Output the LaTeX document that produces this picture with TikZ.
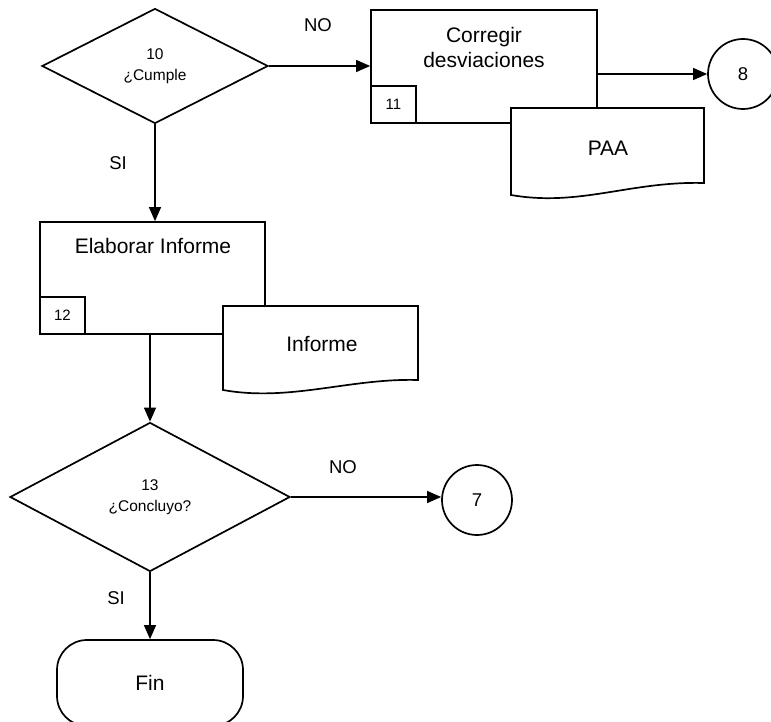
\documentclass[tikz,border=0pt]{standalone}
\usepackage{fontspec}
\setmainfont{Liberation Sans}
\usetikzlibrary{shapes.geometric,arrows.meta}
\begin{document}
\begin{tikzpicture}[x=1pt,y=-1pt,
  every node/.style={inner sep=0pt,font=\fontsize{21}{25}\selectfont},
  outline/.style={draw=black,line width=1.7pt},
  decision/.style={outline,diamond,align=center,font=\fontsize{15.5}{20.5}\selectfont},
  process/.style={outline,rectangle},
  stepno/.style={outline,rectangle,fill=white,minimum width=45pt,minimum height=37pt,
    anchor=south west,font=\fontsize{15}{18}\selectfont},
  connector/.style={outline,circle,minimum size=70pt,font=\fontsize{18.5}{22}\selectfont},
  terminal/.style={outline,rectangle,rounded corners=30pt,minimum width=186pt,minimum height=86pt},
  docline/.style={outline,fill=white,line join=miter},
  flow/.style={draw=black,line width=1.2pt,-{Triangle[length=14pt,width=12pt]}},
  answer/.style={font=\fontsize{18.5}{22}\selectfont}
]
\path[use as bounding box] (0,0) rectangle (771,722);
\clip (0,0) rectangle (771,722);

% step 10: decision
\node[decision,minimum width=226pt,minimum height=115pt] (d10) at (155,66) {10\\¿Cumple};

% step 11: corrective action and its record
\node[process,minimum width=226pt,minimum height=113pt] (p11) at (484,66.5) {};
\node[align=center] (p11txt) at (484,47) {Corregir\\desviaciones};
\node[stepno] (n11) at (p11.south west) {11};
\draw[docline] (511,108) -- (704,108) -- (704,183)
  .. controls (630,181) and (580,207) .. (511,195) -- cycle;
\node (paa) at (608,148.5) {PAA};
\node[connector] (c8) at (743,74) {8};

% step 12: report
\node[process,minimum width=225pt,minimum height=112pt] (p12) at (152.5,278) {};
\node (p12txt) at (153,246) {Elaborar Informe};
\node[stepno] (n12) at (p12.south west) {12};
\draw[docline] (223,306) -- (418,306) -- (418,380)
  .. controls (350,378) and (290,402) .. (223,390) -- cycle;
\node (inf) at (322,344) {Informe};

% step 13: decision and end
\node[decision,minimum width=280pt,minimum height=149pt] (d13) at (150,497) {13\\¿Concluyo?};
\node[connector] (c7) at (477,500) {7};
\node[terminal] (fin) at (150,683) {Fin};

% answer labels
\node[answer] (no1) at (318,25) {NO};
\node[answer] (si1) at (118,163) {SI};
\node[answer] (no2) at (343,467) {NO};
\node[answer] (si2) at (116,598) {SI};

% flow
\draw[flow] (d10.east) -- (d10.east -| p11.west);
\draw[flow] (p11.east |- c8) -- (c8);
\draw[flow] (d10.south) -- (d10.south |- p12.north);
\draw[flow] (d13.north |- p12.south) -- (d13.north);
\draw[flow] (d13.east) -- (d13.east -| c7.west);
\draw[flow] (d13.south) -- (d13.south |- fin.north);
\end{tikzpicture}
\end{document}
